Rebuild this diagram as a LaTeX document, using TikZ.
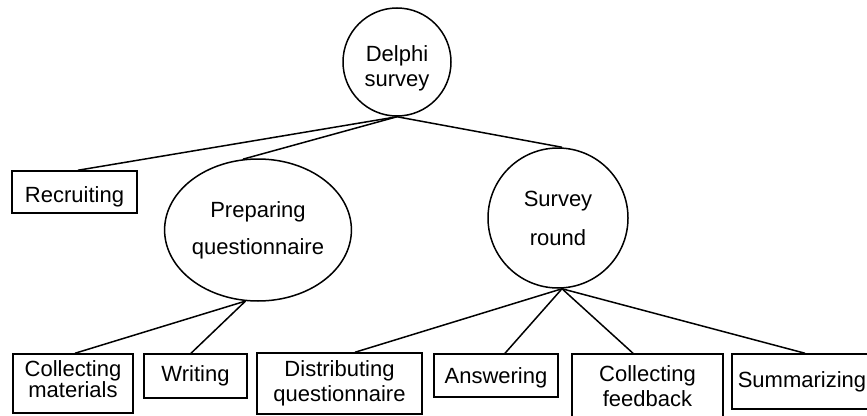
\documentclass[tikz,border=0pt]{standalone}
\usepackage{fontspec}
\setmainfont{Liberation Sans}
\usetikzlibrary{shapes.geometric}

\tikzset{
  link/.style={line width=1.5pt},
  bubble/.style={circle, draw, line width=1.5pt, inner sep=0pt, align=center},
  oval/.style={ellipse, draw, line width=1.5pt, inner sep=0pt, align=center},
  task/.style={rectangle, draw, line width=1.5pt, inner sep=0pt, align=center},
  lead/.style={font=\fontsize{22}{#1}\selectfont},
}

\begin{document}
\begin{tikzpicture}[x=1pt, y=-1pt]
\useasboundingbox (0,0) rectangle (867,415);
\clip (0,0) rectangle (867,415);

% top level
\node[bubble, minimum size=108pt,
      label={[name=delphitxt, align=center, lead=25, yshift=-6pt]center:Delphi\\survey}]
  (delphi) at (397,62) {};

% second level
\node[task, minimum width=125pt, minimum height=42pt,
      label={[name=recruittxt, lead=22, yshift=-5pt]center:Recruiting}]
  (recruit) at (74.5,192) {};
\node[oval, minimum width=174pt, minimum height=142pt, lead=37]
  (prep) at (258,230) {Preparing\\questionnaire};
\node[bubble, minimum size=140pt, lead=39]
  (survey) at (558,218) {Survey\\round};

% third level
\node[task, minimum width=120pt, minimum height=59pt,
      label={[name=colmattxt, align=center, lead=21, yshift=4pt]center:Collecting\\materials}]
  (colmat) at (73,383.5) {};
\node[task, minimum width=103pt, minimum height=44pt, lead=22]
  (writing) at (195.5,376) {Writing};
\node[task, minimum width=165pt, minimum height=61pt, lead=25]
  (distq) at (339.5,383.5) {Distributing\\questionnaire};
\node[task, minimum width=124pt, minimum height=43pt,
      label={[name=answertxt, lead=22, yshift=-2pt]center:Answering}]
  (answer) at (496,375.5) {};
\node[task, minimum width=151pt, minimum height=66pt,
      label={[name=colfbtxt, align=center, lead=25, yshift=1pt]center:Collecting\\feedback}]
  (colfb) at (647.5,387) {};
\node[task, minimum width=140pt, minimum height=55pt, lead=22]
  (summ) at (802,381.5) {Summarizing};

% connectors
\draw[link] (delphi.south) -- ([xshift=3.5pt]recruit.north);
\draw[link] (delphi.south) -- (prep.102.7);
\draw[link] (delphi.south) -- ([xshift=4pt]survey.north);

\draw[link] (prep.-100) -- ([xshift=2pt]colmat.north);
\draw[link] (prep.-100) -- ([xshift=-4.5pt]writing.north);

\draw[link] ([xshift=4pt]survey.south) -- ([xshift=15.5pt]distq.north);
\draw[link] ([xshift=4pt]survey.south) -- ([xshift=9pt]answer.north);
\draw[link] ([xshift=4pt]survey.south) -- ([xshift=-14.5pt]colfb.north);
\draw[link] ([xshift=4pt]survey.south) -- ([xshift=3pt]summ.north);
\end{tikzpicture}
\end{document}
